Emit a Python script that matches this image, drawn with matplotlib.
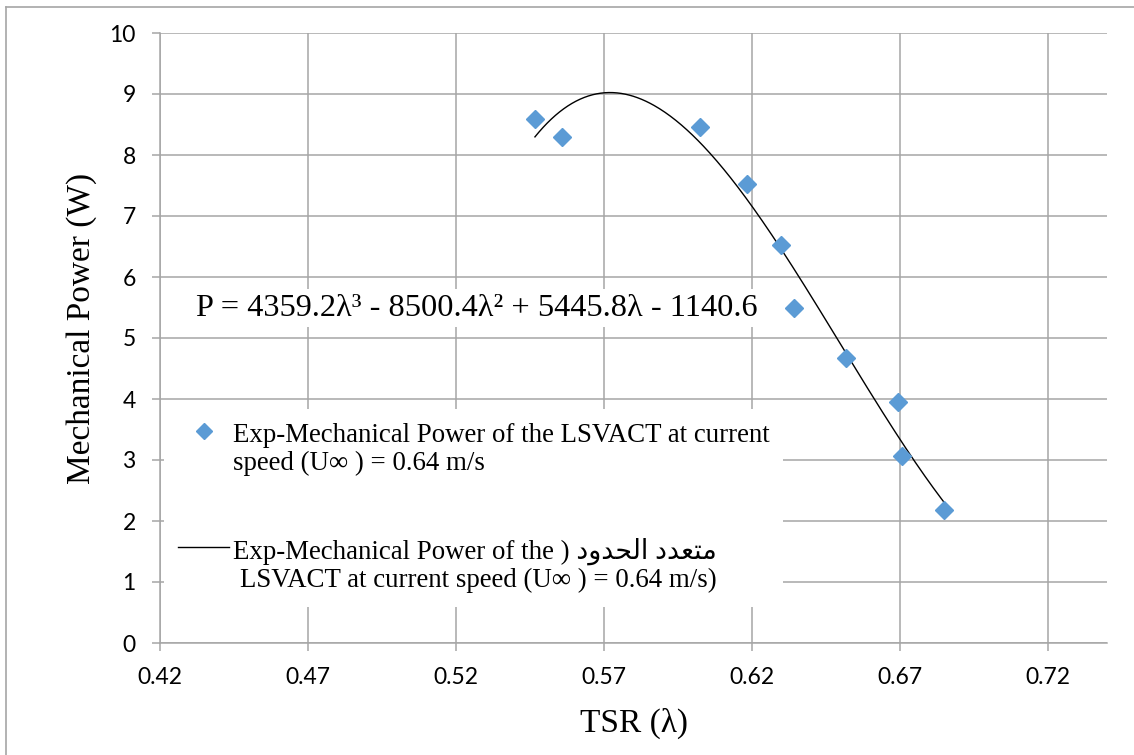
import matplotlib

matplotlib.use("Agg")
import matplotlib.pyplot as plt
import numpy as np
from matplotlib.font_manager import FontProperties
from matplotlib.legend_handler import HandlerLine2D
from matplotlib.lines import Line2D

tsr = [0.5467, 0.5559, 0.6025, 0.6184, 0.6300, 0.6341, 0.6518, 0.6694, 0.6707, 0.6850]
power = [8.59, 8.30, 8.46, 7.52, 6.52, 5.50, 4.67, 3.95, 3.07, 2.18]

# cubic trendline as printed on the chart
poly_coef = [4359.2, -8500.4, 5445.8, -1140.6]

x_ticks = [0.42, 0.47, 0.52, 0.57, 0.62, 0.67, 0.72]
y_ticks = [0, 1, 2, 3, 4, 5, 6, 7, 8, 9, 10]

equation = "P = 4359.2\u03bb\u00b3 - 8500.4\u03bb\u00b2 + 5445.8\u03bb - 1140.6"
label_points = "Exp-Mechanical Power of the LSVACT at current\nspeed (U\u221e ) = 0.64 m/s"
# "متعدد الحدود" written in visual order with presentation forms (mpl does no shaping)
arabic_visual = "\ufea9\ufeed\ufeaa\ufea4\ufedf\ufe8d \ufea9\ufeaa\ufecc\ufe98\ufee3"
label_fit = ("Exp-Mechanical Power of the ) " + arabic_visual +
             "\nLSVACT at current speed (U\u221e ) = 0.64 m/s)")

GRID = "#A6A6A6"
BLUE = "#5B9BD5"
SERIF = ["Liberation Serif", "DejaVu Sans"]


class HandlerFirstLine(HandlerLine2D):
    """Put the legend handle next to the first text line, like Excel does."""

    def create_artists(self, legend, orig_handle, xdescent, ydescent,
                       width, height, fontsize, trans):
        artists = super().create_artists(legend, orig_handle, xdescent, ydescent,
                                         width, height, fontsize, trans)
        for a in artists:
            a.set_ydata(np.asarray(a.get_ydata()) + 0.68 * fontsize)
        return artists


def main():
    fig = plt.figure(figsize=(11.34, 7.55), dpi=100)
    ax = fig.add_axes([160 / 1134, 1 - 643 / 755, 947 / 1134, 610 / 755])

    lam = np.linspace(min(tsr), max(tsr), 300)
    (fit_line,) = ax.plot(lam, np.polyval(poly_coef, lam), color="black", lw=1.0, zorder=3)
    (pts,) = ax.plot(tsr, power, ls="none", marker="D", ms=9.5, color=BLUE,
                     mec=BLUE, zorder=4)

    ax.set_xlim(0.42, 0.74)
    ax.set_ylim(0, 10)
    ax.set_xticks(x_ticks)
    ax.set_xticklabels([f"{v:.2f}" for v in x_ticks])
    ax.set_yticks(y_ticks)
    ax.grid(True, color=GRID, lw=1.1, zorder=0)
    ax.set_axisbelow(True)
    for side in ["top", "right"]:
        ax.spines[side].set_visible(False)
    for side in ["left", "bottom"]:
        ax.spines[side].set_color(GRID)
        ax.spines[side].set_linewidth(1.1)
    ax.tick_params(axis="both", direction="out", length=5.5, width=1.1, color=GRID,
                   labelsize=16.5, pad=12)
    for lbl in ax.get_xticklabels() + ax.get_yticklabels():
        lbl.set_family("Lato")

    ax.set_xlabel("TSR (\u03bb)", family=SERIF, fontsize=24, labelpad=14)
    ax.set_ylabel("Mechanical Power (W)", family=SERIF, fontsize=24)
    ax.yaxis.set_label_coords(-0.0665, 0.516)

    ax.text(0.335, 0.549, equation, transform=ax.transAxes, ha="center", va="center",
            family=SERIF, fontsize=23.3, zorder=5,
            bbox=dict(fc="white", ec="none", pad=3))

    leg = ax.legend([pts, fit_line], [label_points, label_fit],
                    loc="upper left", bbox_to_anchor=(-0.0095, 0.405),
                    prop=FontProperties(family=SERIF, size=19.4),
                    frameon=True, facecolor="white", edgecolor="none", framealpha=1,
                    fancybox=False, handlelength=1.9, handletextpad=0.15,
                    labelspacing=2.3, borderpad=0.5, markerscale=0.9,
                    handler_map={pts: HandlerFirstLine(), fit_line: HandlerFirstLine()})
    leg.set_zorder(5)
    for t in leg.get_texts():
        t.set_linespacing(1.15)
    leg.get_texts()[1].set_multialignment("right")

    # chart area border (only top and left edges visible in the original)
    fig.add_artist(Line2D([5.5 / 1134, 1], [1 - 7 / 755, 1 - 7 / 755],
                          transform=fig.transFigure, color=GRID, lw=1.2))
    fig.add_artist(Line2D([5.5 / 1134, 5.5 / 1134], [0, 1 - 7 / 755],
                          transform=fig.transFigure, color=GRID, lw=1.2))

    fig.savefig("out.png", dpi=100)


if __name__ == "__main__":
    main()
